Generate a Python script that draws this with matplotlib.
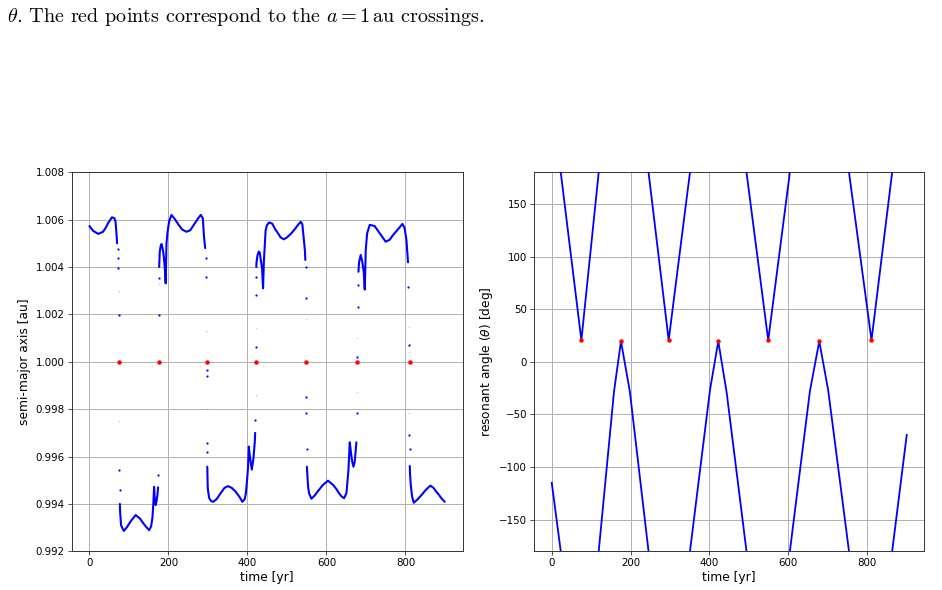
import numpy as np
import matplotlib
matplotlib.use("Agg")
import matplotlib.pyplot as plt
from matplotlib.ticker import FormatStrFormatter

nan = np.nan

# ---------------- data: semi-major axis (left panel) ----------------
# densely sampled arcs (separated by NaN)
dense_t = [
    0, 5, 9, 22, 34.5, 42, 47, 57, 63, 66, 68, 70, nan,
    77.0, 77.5, 80, 87, 95, 105, 117, 128, 140, 151, 156, 159.5, 162, 163.6,
    165.5, 167.5, 169.5, 172, 173.7, nan,
    176.5, 178, 180.5, 182.5, 186, 188.5, 191, 193, 195, 197.5, 201.6, 207.6, 215,
    225, 235, 245.5, 255, 265, 275, 282, 287, 290, 293.0, nan,
    298.3, 299.5, 303, 308, 313, 322, 332, 342, 351, 360, 370, 380.5, 387,
    393, 396, 399, 401.6, 403.5, 405.5, 407.5, 411, 415, 418.5, 419.6, nan,
    422.5, 423, 425.5, 428.6, 431, 434, 437, 439.5, 441.5, 444, 446, 449, 454.5,
    463, 470, 477.5, 484, 492, 500, 511, 520, 528, 535, 539, 543, 545.5, 546.5, nan,
    550.5, 553.5, 556, 562, 570, 579, 591, 604, 617, 625, 632, 638,
    644.6, 650.6, 653, 655.7, 659, 662.3, 665, 668.4, 671.6, 674, 675.8, nan,
    681.0, 682.6, 686.8, 691, 694.4, 697, 699.5, 703, 709.6, 722, 735, 750,
    760, 768.6, 781, 792.4, 798, 802.5, 805, 806.5, nan,
    811.0, 811.5, 813.5, 817, 821, 830, 840.5, 852, 863, 871, 878, 885,
    891, 899.5,
]
dense_a = [
    1.00573, 1.00562, 1.00553, 1.00540, 1.00549, 1.00568, 1.00585, 1.00610,
    1.00606, 1.00592, 1.00550, 1.00500, nan,
    0.99400, 0.99370, 0.99310, 0.99286, 0.99302, 0.99328, 0.99353, 0.99338,
    0.99310, 0.99289, 0.99305, 0.99343, 0.99409, 0.99472, 0.99420, 0.99395,
    0.99409, 0.99435, 0.99470, nan,
    1.00400, 1.00465, 1.00490, 1.00497, 1.00472, 1.00440, 1.00390, 1.00331,
    1.00500, 1.00545, 1.00592, 1.00620, 1.00605, 1.00580, 1.00558, 1.00549,
    1.00555, 1.00580, 1.00605, 1.00620, 1.00606, 1.00528, 1.00480, nan,
    0.99557, 0.99466, 0.99425, 0.99412, 0.99409, 0.99420, 0.99445,
    0.99468, 0.99475, 0.99468, 0.99452, 0.99428, 0.99409, 0.99420, 0.99445,
    0.99500, 0.99557, 0.99642, 0.99610, 0.99585, 0.99545, 0.99590, 0.99660,
    0.99700, nan,
    1.00400, 1.00420, 1.00450, 1.00465, 1.00462, 1.00430, 1.00395, 1.00310,
    1.00420, 1.00500, 1.00555, 1.00575, 1.00588, 1.00583, 1.00560, 1.00542,
    1.00525, 1.00517, 1.00525, 1.00542, 1.00560, 1.00578, 1.00591, 1.00580,
    1.00514, 1.00470, 1.00430, nan,
    0.99557, 0.99472, 0.99445, 0.99422, 0.99435, 0.99455,
    0.99480, 0.99498, 0.99480, 0.99463, 0.99445, 0.99432, 0.99424, 0.99445,
    0.99490, 0.99543, 0.99660, 0.99613, 0.99580, 0.99557, 0.99578, 0.99627,
    0.99660, nan,
    1.00380, 1.00420, 1.00451, 1.00420, 1.00380, 1.00305, 1.00472,
    1.00542, 1.00578, 1.00573, 1.00542, 1.00507, 1.00515, 1.00535, 1.00559,
    1.00582, 1.00564, 1.00514, 1.00451, 1.00420, nan,
    0.99560, 0.99530, 0.99480, 0.99430, 0.99405, 0.99418, 0.99437,
    0.99460, 0.99477, 0.99468, 0.99452, 0.99438, 0.99424, 0.99409,
]

# isolated samples during the fast transitions
sparse_t = [71.5, 72.8, 73.5, 74.5, 76.0, 76.6, 174.2, 175.5, 176.0,
            294.3, 295.3, 296.5, 296.7, 297.3, 297.8, 420.3, 421.0, 421.3,
            421.8, 547.0, 547.6, 548.4, 549.4, 549.8, 676.7, 678.3, 679.5,
            680.2, 807.6, 808.4, 809.5, 810.3]
sparse_a = [1.00475, 1.00440, 1.00395, 1.00197, 0.99543, 0.99460, 0.99522,
            1.00197, 1.00352, 1.00440, 1.00360, 0.99965, 0.99938, 0.99656,
            0.99620, 0.99754, 1.00064, 1.00280, 1.00360, 1.00401, 1.00268,
            0.99853, 0.99783, 0.99630, 0.99783, 1.00020, 1.00233, 1.00324,
            1.00317, 1.00071, 0.99689, 0.99630]
faint_t = [74.2, 75.5, 175.2, 295.8, 297.0, 420.8, 422.7, 547.8, 677.5,
           677.6, 808.7, 809.2, 809.0]
faint_a = [1.00300, 0.99751, 1.00330, 1.00130, 0.99800, 0.99860, 1.00141,
           1.00180, 1.00100, 0.99874, 1.00148, 0.99783, 1.00040]

# a = 1 au crossings
cross_t = [75.1, 175.6, 296.6, 421.8, 548.8, 678.5, 810.8]
cross_a = [1.0, 1.0, 1.0, 1.0, 1.0, 1.0, 1.0]

# ---------------- data: resonant angle (right panel) ----------------
theta_t = [0, 22.8, nan,
           22.8, 75.1, 119.1, nan,
           119.1, 158.0, 175.6, 198.0, 245.5, nan,
           245.5, 296.6, 350.6, nan,
           350.6, 401.3, 422.4, 443.6, 494.0, nan,
           494.0, 549.1, 604.0, nan,
           604.0, 654.8, 678.6, 701.2, 754.0, nan,
           754.0, 811.1, 863.5, nan,
           863.5, 900.5]
theta_deg = [-115, -180, nan,
             180, 20.4, 180, nan,
             -180, -28, 19.5, -28, -180, nan,
             180, 20.5, 180, nan,
             -180, -27, 19.5, -29, -180, nan,
             180, 20.5, 180, nan,
             -180, -28, 19.5, -27, -180, nan,
             180, 20.5, 180, nan,
             -180, -69.5]
cross_theta = [20.4, 19.5, 20.5, 19.5, 20.5, 19.5, 20.5]

xticks = [0, 200, 400, 600, 800]
a_ticks = [0.992, 0.994, 0.996, 0.998, 1.000, 1.002, 1.004, 1.006, 1.008]
theta_ticks = [-150, -100, -50, 0, 50, 100, 150]

# ---------------- figure ----------------
fig = plt.figure(figsize=(9.42, 5.90), dpi=100)

tick_fs = 7.4
label_fs = 8.8

fig.text(0.007, 0.972,
         r"$\theta$. The red points correspond to the $a = 1\,$au crossings.",
         family="cmr10", math_fontfamily="cm", fontsize=14.5,
         ha="left", va="center")

ax1 = fig.add_axes([0.0761, 0.0656, 0.4151, 0.6424])
ax2 = fig.add_axes([0.5669, 0.0656, 0.4143, 0.6424])

ax1.plot(dense_t, dense_a, color="blue", lw=1.5, solid_capstyle="round",
         zorder=3)
ax1.plot(sparse_t, sparse_a, ".", color="blue", ms=3.2, mew=0, zorder=3)
ax1.plot(faint_t, faint_a, ".", color="blue", ms=2.4, mew=0, alpha=0.2,
         zorder=3)
ax1.plot(cross_t, cross_a, "o", color="red", ms=3.2, mew=0, zorder=4)
ax1.set_xlim(-45, 945)
ax1.set_ylim(0.992, 1.008)
ax1.set_yticks(a_ticks)
ax1.yaxis.set_major_formatter(FormatStrFormatter("%.3f"))
ax1.set_ylabel("semi-major axis [au]", fontsize=label_fs, labelpad=3)

ax2.plot(theta_t, theta_deg, color="blue", lw=1.3, zorder=3)
ax2.plot(cross_t, cross_theta, "o", color="red", ms=3.2, mew=0, zorder=4)
ax2.set_xlim(-45, 945)
ax2.set_ylim(-180, 180)
ax2.set_yticks(theta_ticks)
ax2.set_ylabel(r"resonant angle ($\theta$) [deg]", fontsize=label_fs,
               labelpad=3)

for ax in (ax1, ax2):
    ax.set_xticks(xticks)
    ax.set_xlabel("time [yr]", fontsize=label_fs, labelpad=2)
    ax.tick_params(labelsize=tick_fs, length=2.6, width=0.6, pad=2.5,
                   color="#333333")
    ax.grid(True, color="#b0b0b0", lw=0.7)
    ax.set_axisbelow(True)
    for s in ax.spines.values():
        s.set_linewidth(0.7)
        s.set_color("#333333")

fig.savefig("out.png", dpi=100)
